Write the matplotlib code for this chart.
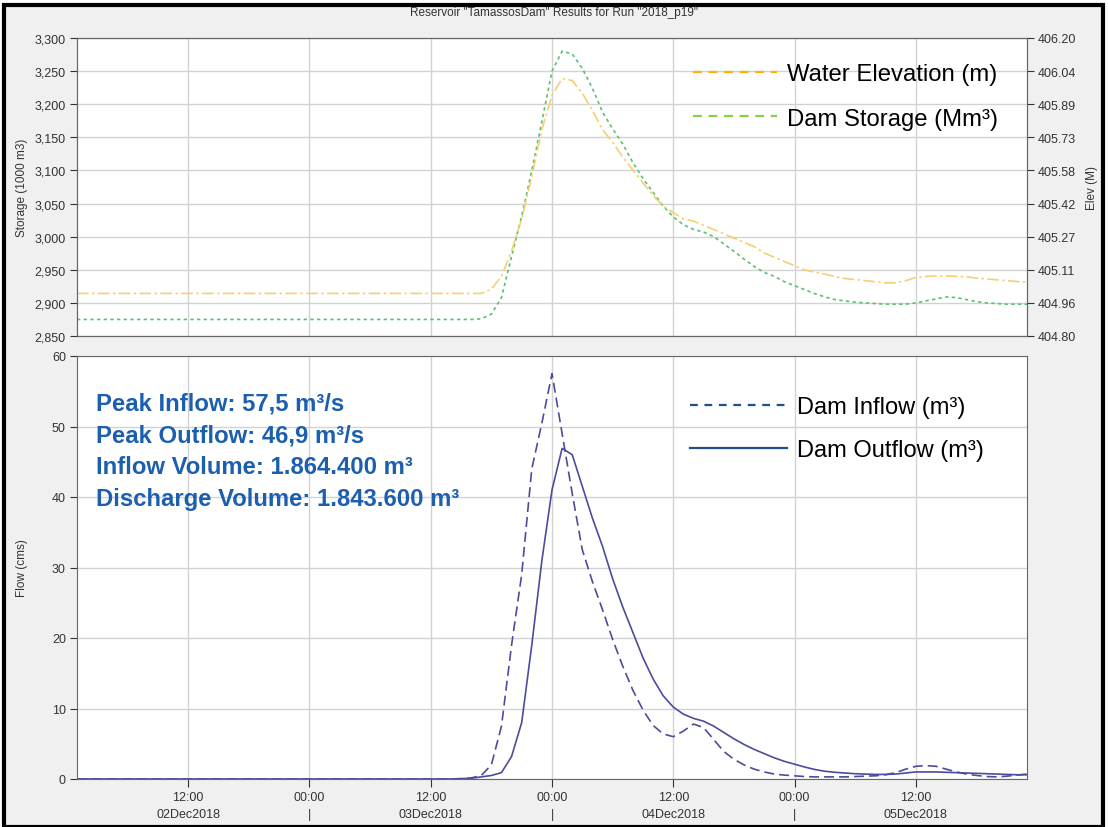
import matplotlib
matplotlib.use('Agg')
import matplotlib.pyplot as plt
from matplotlib.lines import Line2D
from matplotlib.patches import Rectangle
from matplotlib.ticker import FuncFormatter, FixedLocator

plt.rcParams['font.family'] = ['Liberation Sans', 'DejaVu Sans']

# hours counted from 02Dec2018 00:00
hours = [1] + list(range(38, 96))

inflow = [0.0,
          0.0, 0.05, 0.15, 0.5, 2.0, 7.5, 19.0, 29.0, 44.0, 50.5,
          57.5, 49.0, 40.5, 32.5, 28.0, 24.0, 19.8, 16.0, 12.6, 9.8,
          7.6, 6.4, 6.0, 6.8, 7.8, 7.3, 5.6, 3.9, 2.8, 2.0,
          1.4, 1.0, 0.7, 0.55, 0.45, 0.35, 0.3, 0.3, 0.3, 0.3,
          0.35, 0.4, 0.45, 0.6, 0.9, 1.4, 1.8, 1.9, 1.8, 1.4,
          1.0, 0.7, 0.5, 0.35, 0.3, 0.4, 0.55, 0.7]

outflow = [0.0,
           0.0, 0.05, 0.1, 0.3, 0.5, 0.9, 3.2, 8.0, 19.0, 31.0,
           41.0, 46.9, 46.0, 41.5, 37.0, 33.0, 28.4, 24.4, 20.8, 17.2,
           14.2, 11.8, 10.2, 9.2, 8.6, 8.2, 7.5, 6.6, 5.7, 4.9,
           4.2, 3.6, 3.0, 2.5, 2.1, 1.7, 1.35, 1.1, 0.95, 0.85,
           0.75, 0.7, 0.65, 0.65, 0.7, 0.85, 1.0, 1.0, 1.0, 0.95,
           0.9, 0.85, 0.8, 0.75, 0.7, 0.65, 0.6, 0.6]

storage = [2875,
           2875, 2875, 2875, 2876, 2883, 2908, 2970, 3031, 3100, 3174,
           3250, 3280, 3276, 3254, 3224, 3188, 3163, 3140, 3112, 3088,
           3067, 3046, 3030, 3018, 3011, 3007, 3000, 2989, 2978, 2966,
           2955, 2946, 2940, 2932, 2926, 2920, 2914, 2909, 2905, 2903,
           2901, 2900, 2899, 2898, 2898, 2898, 2900, 2903, 2906, 2909,
           2908, 2905, 2902, 2900, 2899, 2898, 2898, 2898]

elevation = [405.00,
             405.00, 405.00, 405.00, 405.00, 405.02, 405.08, 405.20, 405.35, 405.55, 405.77,
             405.93, 406.01, 406.00, 405.94, 405.86, 405.77, 405.71, 405.64, 405.58, 405.52,
             405.46, 405.41, 405.38, 405.35, 405.34, 405.32, 405.30, 405.28, 405.26, 405.24,
             405.22, 405.19, 405.17, 405.15, 405.13, 405.11, 405.10, 405.09, 405.08, 405.07,
             405.065, 405.06, 405.055, 405.05, 405.05, 405.06, 405.075, 405.08, 405.082, 405.082,
             405.08, 405.078, 405.072, 405.068, 405.064, 405.06, 405.056, 405.054]

tick_hours = [12, 24, 36, 48, 60, 72, 84]
tick_labels = ['12:00\n02Dec2018', '00:00\n|', '12:00\n03Dec2018', '00:00\n|',
               '12:00\n04Dec2018', '00:00\n|', '12:00\n05Dec2018']

stat_lines = ['Peak Inflow: 57,5 m³/s',
              'Peak Outflow: 46,9 m³/s',
              'Inflow Volume: 1.864.400 m³',
              'Discharge Volume: 1.843.600 m³']

W, H = 1108, 828
fig = plt.figure(figsize=(W / 100, H / 100), dpi=100)
fig.patch.set_facecolor('white')
fig.patches.append(Rectangle((4 / W, 0), 1099 / W, 1 - 6 / H, transform=fig.transFigure,
                             facecolor='#f0f0f0', edgecolor='black', linewidth=3, zorder=-10))

grid_kw = dict(color='#d2d2d2', linewidth=1.0)
spine_col = '#666666'
tick_fs = 9

ax1 = fig.add_axes([77 / W, 1 - 337 / H, 950 / W, 298 / H])
ax2 = fig.add_axes([77 / W, 1 - 780 / H, 950 / W, 423 / H])

for ax in (ax1, ax2):
    ax.set_facecolor('white')
    ax.set_xlim(1, 95)
    ax.xaxis.set_major_locator(FixedLocator(tick_hours))
    ax.grid(True, **grid_kw)
    ax.set_axisbelow(True)
    for s in ax.spines.values():
        s.set_color(spine_col)
    ax.tick_params(colors='#333333', labelsize=tick_fs, length=5, width=0.8, pad=3)

# top panel
ax1.set_ylim(2850, 3300)
ax1.set_yticks(range(2850, 3301, 50))
ax1.yaxis.set_major_formatter(FuncFormatter(lambda v, p: f'{int(v):,}'))
ax1.tick_params(axis='x', labelbottom=False, length=0)
ax1.plot(hours, storage, color='#5cc070', linestyle=(0, (2, 2)), linewidth=1.2)

ax1r = ax1.twinx()
ax1r.set_ylim(404.8, 406.2)
ax1r.set_yticks([404.8 + i * 1.4 / 9 for i in range(10)])
ax1r.yaxis.set_major_formatter(FuncFormatter(lambda v, p: f'{v:.2f}'))
ax1r.tick_params(colors='#333333', labelsize=tick_fs, length=5, width=0.8, pad=3)
for s in ax1r.spines.values():
    s.set_color(spine_col)
ax1r.plot(hours, elevation, color='#f3d070', linestyle=(0, (7, 2, 1.5, 2)), linewidth=1.2)

top_handles = [Line2D([], [], color='#ffb300', linestyle=(0, (4, 3)), linewidth=1.6),
               Line2D([], [], color='#88d044', linestyle=(0, (4, 3)), linewidth=1.6)]
ax1r.legend(top_handles, ['Water Elevation (m)', 'Dam Storage (Mm³)'],
            loc='upper left', bbox_to_anchor=((693 - 77) / 950, (337 - 64) / 298),
            frameon=False, fontsize=17.2, handlelength=3.5, handletextpad=0.42,
            labelspacing=0.95, borderpad=0, borderaxespad=0)

# bottom panel
ax2.set_ylim(0, 60)
ax2.set_yticks(range(0, 61, 10))
ax2.set_xticklabels(tick_labels, linespacing=1.45)
ax2.tick_params(axis='x', direction='out', length=6, pad=3)
curve_col = '#4c4c9c'
ax2.plot(hours, inflow, color=curve_col, linestyle=(0, (6, 3)), linewidth=1.2)
ax2.plot(hours, outflow, color=curve_col, linestyle='-', linewidth=1.2)

bot_handles = [Line2D([], [], color='#1f4f8f', linestyle=(0, (3.5, 3)), linewidth=1.6),
               Line2D([], [], color='#1f4f8f', linestyle='-', linewidth=1.6)]
ax2.legend(bot_handles, ['Dam Inflow (m³)', 'Dam Outflow (m³)'],
           loc='upper left', bbox_to_anchor=((690 - 77) / 950, (780 - 397) / 423),
           frameon=False, fontsize=17, handlelength=4.1, handletextpad=0.42,
           labelspacing=0.9, borderpad=0, borderaxespad=0)

for i, line in enumerate(stat_lines):
    ax2.text((96 - 77) / 950, (780 - (404 + 31.7 * i)) / 423, line, transform=ax2.transAxes,
             color='#1b5fae', fontsize=17.2, fontweight='bold', va='center', ha='left')

fig.text(0.5, 1 - 13 / H, 'Reservoir "TamassosDam" Results for Run "2018_p19"',
         ha='center', va='center', fontsize=8.5, color='#333333')
fig.text(22 / W, 1 - 188 / H, 'Storage (1000 m3)', rotation=90, ha='center', va='center',
         fontsize=8.5, color='#333333')
fig.text(1092 / W, 1 - 188 / H, 'Elev (M)', rotation=90, ha='center', va='center',
         fontsize=8.5, color='#333333')
fig.text(22 / W, 1 - 568 / H, 'Flow (cms)', rotation=90, ha='center', va='center',
         fontsize=8.5, color='#333333')

fig.savefig('out.png', dpi=100, facecolor=fig.get_facecolor())
